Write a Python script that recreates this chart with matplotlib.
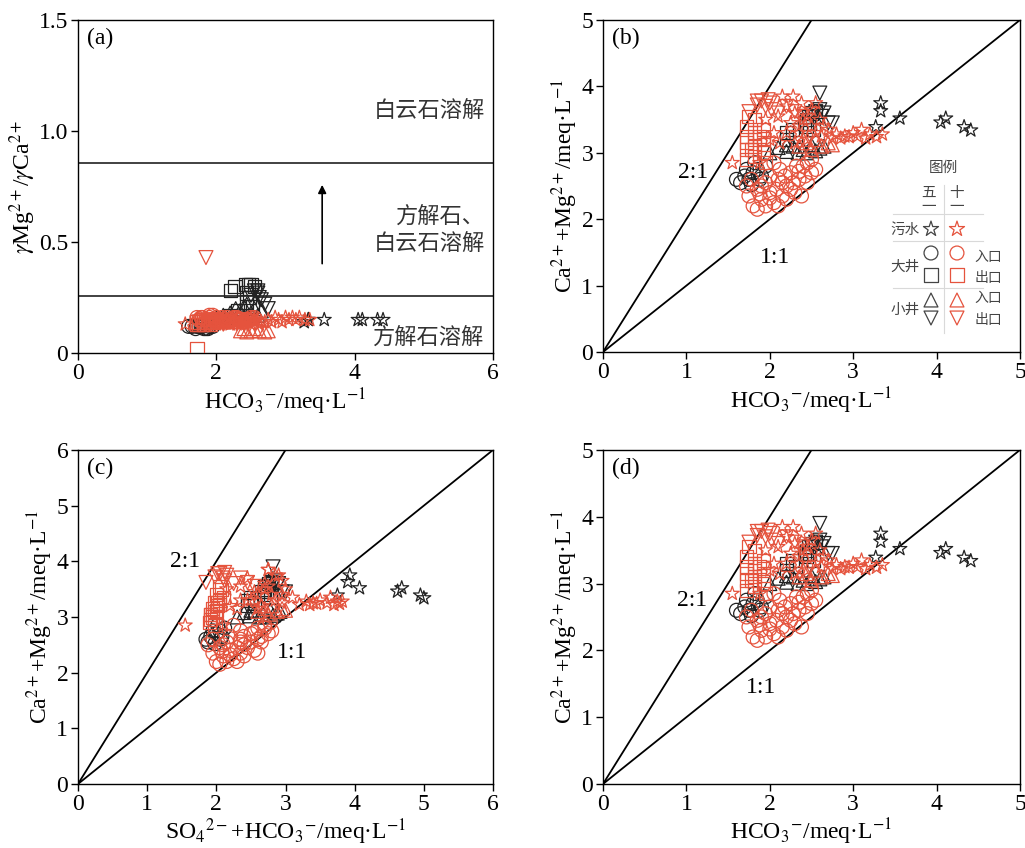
import matplotlib
matplotlib.use("Agg")
import matplotlib.pyplot as plt
import numpy as np

plt.rcParams["font.family"] = ["Liberation Serif", "Noto Sans CJK SC"]
plt.rcParams["mathtext.fontset"] = "stix"
plt.rcParams["axes.linewidth"] = 1.0

RED = "#e5533d"
BLK = "#222222"

# ---- 五一 (black) ----
# 污水
may_sew_hco3 = [3.27, 3.33, 3.33, 3.56, 4.05, 4.11, 4.33, 4.41]
may_sew_camg = [3.39, 3.63, 3.75, 3.52, 3.46, 3.52, 3.39, 3.34]
may_sew_ratio = [0.14, 0.15, 0.15, 0.15, 0.15, 0.15, 0.15, 0.15]
may_sew_sumx = [3.75, 3.90, 3.93, 4.07, 4.62, 4.68, 4.95, 5.00]
# 大井入口
may_bin_hco3 = [1.60, 1.65, 1.70, 1.75, 1.80, 1.85, 1.90, 1.95, 1.82, 1.72, 1.88, 1.78]
may_bin_camg = [2.60, 2.55, 2.65, 2.60, 2.70, 2.75, 2.65, 2.80, 2.85, 2.75, 2.60, 2.52]
may_bin_ratio = [0.12, 0.12, 0.11, 0.12, 0.12, 0.11, 0.12, 0.12, 0.11, 0.12, 0.11, 0.12]
may_bin_sumx = [1.85, 1.88, 1.92, 1.95, 2.00, 2.05, 2.08, 2.12, 2.02, 1.95, 2.06, 1.98]
# 大井出口
may_bout_hco3 = [2.20, 2.27, 2.42, 2.46, 2.50, 2.55, 2.44, 2.44, 2.31, 2.20, 2.48, 2.52]
may_bout_camg = [3.30, 3.35, 3.45, 3.55, 3.60, 3.62, 3.50, 3.40, 3.25, 3.20, 3.45, 3.35]
may_bout_ratio = [0.28, 0.30, 0.31, 0.31, 0.31, 0.30, 0.27, 0.23, 0.19, 0.17, 0.25, 0.21]
may_bout_sumx = [2.45, 2.50, 2.65, 2.70, 2.75, 2.80, 2.70, 2.68, 2.55, 2.45, 2.72, 2.78]
# 小井入口
may_sin_hco3 = [2.00, 2.10, 2.20, 2.28, 2.34, 2.40, 2.44, 2.50, 2.55, 2.60, 2.65, 2.20]
may_sin_camg = [3.00, 3.08, 3.02, 3.10, 3.00, 3.05, 3.00, 3.12, 3.03, 3.07, 3.10, 3.12]
may_sin_ratio = [0.16, 0.17, 0.18, 0.20, 0.19, 0.21, 0.22, 0.18, 0.20, 0.17, 0.19, 0.16]
may_sin_sumx = [2.30, 2.40, 2.48, 2.55, 2.62, 2.68, 2.72, 2.78, 2.82, 2.88, 2.92, 2.50]
# 小井出口
may_sout_hco3 = [2.60, 2.55, 2.60, 2.65, 2.70, 2.75, 2.50, 2.62]
may_sout_camg = [3.90, 3.62, 3.65, 3.60, 3.45, 3.45, 3.55, 3.55]
may_sout_ratio = [0.28, 0.28, 0.27, 0.24, 0.22, 0.20, 0.26, 0.25]
may_sout_sumx = [2.82, 2.80, 2.85, 2.90, 3.00, 2.95, 2.75, 2.88]

# ---- 十一 (red) ----
oct_sew_hco3 = [1.55, 1.88, 1.95, 2.05, 2.10, 2.15, 2.20, 2.25, 2.30, 2.35, 2.38, 2.40, 2.45, 2.50,
                2.50, 2.55, 2.60, 2.62, 2.70, 2.75, 2.80, 2.85, 2.90, 2.95, 3.00, 3.05, 3.10, 3.15,
                3.20, 3.28, 3.35, 2.20, 2.30, 2.45, 2.65, 2.35, 2.12, 2.55, 2.00, 2.28]
oct_sew_camg = [2.85, 2.85, 3.50, 3.30, 3.55, 3.85, 3.70, 3.45, 3.60, 3.30, 3.75, 3.50, 3.20, 3.40,
                3.65, 3.30, 3.50, 3.25, 3.35, 3.22, 3.28, 3.22, 3.25, 3.24, 3.30, 3.25, 3.35, 3.22,
                3.28, 3.24, 3.28, 3.30, 3.15, 3.55, 3.40, 3.40, 3.15, 3.75, 3.20, 3.85]
oct_sew_ratio = [0.13, 0.14, 0.15, 0.13, 0.14, 0.15, 0.13, 0.14, 0.15, 0.13, 0.14, 0.15, 0.14, 0.13,
                 0.15, 0.14, 0.15, 0.13, 0.14, 0.15, 0.14, 0.16, 0.15, 0.14, 0.16, 0.15, 0.16, 0.15,
                 0.16, 0.15, 0.15, 0.14, 0.13, 0.15, 0.14, 0.13, 0.14, 0.15, 0.13, 0.14]
oct_sew_sumx = [1.55, 2.10, 2.15, 2.35, 2.35, 2.75, 2.45, 2.55, 2.70, 2.50, 2.85, 2.70, 2.65, 2.80,
                2.95, 2.85, 3.00, 2.95, 3.10, 3.20, 3.30, 3.35, 3.40, 3.45, 3.50, 3.60, 3.65, 3.70,
                3.75, 3.78, 3.82, 2.45, 2.60, 2.75, 2.95, 2.60, 2.30, 2.90, 2.20, 2.75]
oct_bin_hco3 = [1.75, 1.80, 1.85, 1.90, 1.95, 2.00, 2.05, 2.10, 2.15, 2.20, 2.25, 2.30, 2.35, 2.40,
                2.45, 2.50, 2.50, 1.78, 1.85, 1.95, 2.00, 2.08, 2.12, 2.20, 2.28, 2.32, 2.38, 2.42,
                1.90, 2.05, 2.15, 2.25, 2.45, 1.72, 2.00, 2.18, 2.35, 2.55, 1.88, 2.10]
oct_bin_camg = [2.35, 2.20, 2.45, 2.30, 2.55, 2.40, 2.25, 2.60, 2.35, 2.50, 2.70, 2.40, 2.60, 2.80,
                2.55, 2.70, 2.90, 2.60, 2.15, 2.20, 2.65, 2.45, 2.75, 2.30, 2.55, 2.80, 2.35, 2.65,
                2.50, 2.85, 2.55, 2.45, 2.85, 2.50, 2.32, 2.65, 2.72, 2.75, 2.38, 2.20]
oct_bin_ratio = [0.15, 0.16, 0.14, 0.17, 0.15, 0.16, 0.14, 0.15, 0.16, 0.15, 0.14, 0.16, 0.15, 0.14,
                 0.15, 0.16, 0.15, 0.16, 0.15, 0.17, 0.14, 0.16, 0.15, 0.14, 0.16, 0.15, 0.14, 0.15,
                 0.16, 0.15, 0.14, 0.16, 0.15, 0.16, 0.15, 0.14, 0.15, 0.16, 0.15, 0.14]
oct_bin_sumx = [1.95, 2.00, 2.05, 2.10, 2.15, 2.20, 2.25, 2.35, 2.35, 2.40, 2.50, 2.55, 2.60, 2.70,
                2.65, 2.75, 2.78, 1.95, 2.05, 2.15, 2.20, 2.30, 2.35, 2.40, 2.50, 2.60, 2.60, 2.65,
                2.10, 2.25, 2.35, 2.45, 2.70, 1.88, 2.20, 2.40, 2.55, 2.80, 2.08, 2.30]
oct_bout_hco3 = [1.72, 1.72, 1.72, 1.72, 1.72, 1.82, 1.82, 1.82, 1.82, 1.82, 1.92, 1.92, 1.92, 1.92,
                 1.95, 1.78, 1.88, 1.75]
oct_bout_camg = [2.90, 3.05, 3.15, 3.25, 3.40, 2.95, 3.10, 3.20, 3.30, 3.50, 3.00, 3.12, 3.22, 3.35,
                 2.85, 3.05, 3.25, 3.55]
oct_bout_ratio = [0.02, 0.13, 0.14, 0.13, 0.14, 0.13, 0.14, 0.15, 0.14, 0.13, 0.14, 0.15, 0.14, 0.13,
                  0.14, 0.15, 0.14, 0.13]
oct_bout_sumx = [1.90, 1.92, 1.95, 1.98, 2.00, 1.92, 1.98, 2.02, 2.05, 2.08, 1.95, 2.00, 2.05, 2.10,
                 1.98, 1.92, 2.02, 2.05]
oct_sin_hco3 = [2.35, 2.44, 2.50, 2.55, 2.62, 2.70, 2.75, 2.40]
oct_sin_camg = [3.10, 3.15, 3.05, 3.20, 3.10, 3.15, 3.12, 3.20]
oct_sin_ratio = [0.10, 0.095, 0.10, 0.11, 0.10, 0.095, 0.10, 0.11]
oct_sin_sumx = [2.60, 2.70, 2.75, 2.80, 2.88, 2.95, 3.00, 2.65]
oct_sout_hco3 = [1.75, 1.85, 1.90, 1.95, 2.00, 2.02, 2.10, 2.20, 2.30, 1.98, 2.40, 1.85]
oct_sout_camg = [3.62, 3.72, 3.78, 3.70, 3.75, 3.65, 3.60, 3.70, 3.62, 3.80, 3.55, 3.78]
oct_sout_ratio = [0.14, 0.43, 0.13, 0.14, 0.15, 0.14, 0.13, 0.14, 0.15, 0.14, 0.13, 0.14]
oct_sout_sumx = [1.85, 1.98, 2.05, 2.10, 2.15, 2.12, 2.25, 2.35, 2.45, 2.12, 2.55, 2.02]

# (hco3, camg, ratio, sumx, marker, colour, size) -- black first, red on top
series = [
    (may_sew_hco3, may_sew_camg, may_sew_ratio, may_sew_sumx, "*", BLK, 110),
    (may_bin_hco3, may_bin_camg, may_bin_ratio, may_bin_sumx, "o", BLK, 100),
    (may_bout_hco3, may_bout_camg, may_bout_ratio, may_bout_sumx, "s", BLK, 90),
    (may_sin_hco3, may_sin_camg, may_sin_ratio, may_sin_sumx, "^", BLK, 100),
    (may_sout_hco3, may_sout_camg, may_sout_ratio, may_sout_sumx, "v", BLK, 100),
    (oct_bin_hco3, oct_bin_camg, oct_bin_ratio, oct_bin_sumx, "o", RED, 100),
    (oct_sin_hco3, oct_sin_camg, oct_sin_ratio, oct_sin_sumx, "^", RED, 100),
    (oct_sout_hco3, oct_sout_camg, oct_sout_ratio, oct_sout_sumx, "v", RED, 100),
    (oct_bout_hco3, oct_bout_camg, oct_bout_ratio, oct_bout_sumx, "s", RED, 90),
    (oct_sew_hco3, oct_sew_camg, oct_sew_ratio, oct_sew_sumx, "*", RED, 110),
]

fig = plt.figure(figsize=(10.25, 8.48), dpi=100)
ax_a = fig.add_axes([0.0761, 0.5837, 0.4049, 0.3927])
ax_b = fig.add_axes([0.5883, 0.5849, 0.4068, 0.3915])
ax_c = fig.add_axes([0.0761, 0.0755, 0.4049, 0.3939])
ax_d = fig.add_axes([0.5883, 0.0755, 0.4068, 0.3939])

hco3_lab = r"HCO$_3$$^{-}$/meq·L$^{-1}$"
camg_lab = r"Ca$^{2+}$+Mg$^{2+}$/meq·L$^{-1}$"


def style(ax, xmax, ymax, xt, yt, ytl=None):
    ax.set_xlim(0, xmax)
    ax.set_ylim(0, ymax)
    ax.set_xticks(xt)
    ax.set_yticks(yt)
    if ytl is not None:
        ax.set_yticklabels(ytl)
    ax.tick_params(direction="out", length=5, width=1, labelsize=17, pad=2)


def scatter_all(ax, xi, yi):
    for s in series:
        ax.scatter(s[xi], s[yi], marker=s[4], s=s[6], facecolors="none",
                   edgecolors=s[5], linewidths=0.9, zorder=3)


# ---- (a) ----
scatter_all(ax_a, 0, 2)
ax_a.axhline(0.856, color="#333333", lw=1.3)
ax_a.axhline(0.257, color="#333333", lw=1.3)
ax_a.annotate("", xy=(3.53, 0.77), xytext=(3.53, 0.39),
              arrowprops=dict(arrowstyle="-|>", color="black", lw=1.2, mutation_scale=12))
ax_a.text(5.88, 1.09, "白云石溶解", ha="right", va="center", fontsize=16, color="#333333")
ax_a.text(5.88, 0.55, "方解石、\n白云石溶解", ha="right", va="center", fontsize=16,
          color="#333333", linespacing=1.35)
ax_a.text(5.88, 0.065, "方解石溶解", ha="right", va="center", fontsize=16, color="#333333")
style(ax_a, 6, 1.5, [0, 2, 4, 6], [0, 0.5, 1.0, 1.5], ["0", "0.5", "1.0", "1.5"])
ax_a.set_xlabel(hco3_lab, fontsize=17, labelpad=2)
ax_a.set_ylabel(r"$\gamma$Mg$^{2+}$/$\gamma$Ca$^{2+}$", fontsize=17, labelpad=1)


def ratio_lines(ax, xmax, lab21, lab11):
    xs = np.array([0, xmax])
    ax.plot(xs, xs, color="black", lw=1.3, zorder=2)
    ax.plot(xs, 2 * xs, color="black", lw=1.3, zorder=2)
    ax.text(lab21[0], lab21[1], "2:1", ha="center", va="center", fontsize=17)
    ax.text(lab11[0], lab11[1], "1:1", ha="center", va="center", fontsize=17)


# ---- (b) ----
scatter_all(ax_b, 0, 1)
ratio_lines(ax_b, 5, (1.08, 2.71), (2.06, 1.43))
style(ax_b, 5, 5, range(6), range(6))
ax_b.set_xlabel(hco3_lab, fontsize=17, labelpad=2)
ax_b.set_ylabel(camg_lab, fontsize=17, labelpad=1)

# legend table in (b)
tr = ax_b.transAxes


def fx(px):
    return (px - 603) / 417


def fy(py):
    return (352 - py) / 332


gray = "#d9d9d9"
for yy in [214, 241, 288]:
    ax_b.plot([fx(893), fx(983)], [fy(yy), fy(yy)], color=gray, lw=0.8, transform=tr, clip_on=False)
ax_b.plot([fx(944), fx(944)], [fy(185), fy(333)], color=gray, lw=0.8, transform=tr, clip_on=False)
ax_b.text(fx(943), fy(168), "图例", ha="center", va="center", fontsize=10.5, color="#444444", transform=tr)
ax_b.text(fx(929), fy(200), "五\n一", ha="center", va="center", fontsize=10.5, color="#444444",
          transform=tr, linespacing=1.1)
ax_b.text(fx(957), fy(200), "十\n一", ha="center", va="center", fontsize=10.5, color="#444444",
          transform=tr, linespacing=1.1)
ax_b.text(fx(905), fy(230), "污水", ha="center", va="center", fontsize=10.5, color="#444444", transform=tr)
ax_b.text(fx(905), fy(267), "大井", ha="center", va="center", fontsize=10.5, color="#444444", transform=tr)
ax_b.text(fx(905), fy(310), "小井", ha="center", va="center", fontsize=10.5, color="#444444", transform=tr)
for py, lab in [(257, "入口"), (278, "出口"), (298, "入口"), (320, "出口")]:
    ax_b.text(fx(988), fy(py), lab, ha="center", va="center", fontsize=10, color="#444444", transform=tr)
for mk, py, sz in [("*", 229, 130), ("o", 253, 100), ("s", 275, 90), ("^", 300, 100), ("v", 318, 100)]:
    ax_b.scatter([fx(931)], [fy(py)], marker=mk, s=sz, facecolors="none", edgecolors="#444444",
                 linewidths=0.9, transform=tr, clip_on=False)
    ax_b.scatter([fx(957)], [fy(py)], marker=mk, s=sz, facecolors="none", edgecolors=RED,
                 linewidths=0.9, transform=tr, clip_on=False)

# ---- (c) ----
scatter_all(ax_c, 3, 1)
ratio_lines(ax_c, 6, (1.55, 4.0), (3.1, 2.37))
style(ax_c, 6, 6, range(7), range(7))
ax_c.set_xlabel(r"SO$_4$$^{2-}$+HCO$_3$$^{-}$/meq·L$^{-1}$", fontsize=17, labelpad=1)
ax_c.set_ylabel(camg_lab, fontsize=17, labelpad=1)

# ---- (d) ----
scatter_all(ax_d, 0, 1)
ratio_lines(ax_d, 5, (1.07, 2.74), (1.9, 1.45))
style(ax_d, 5, 5, range(6), range(6))
ax_d.set_xlabel(hco3_lab, fontsize=17, labelpad=1)
ax_d.set_ylabel(camg_lab, fontsize=17, labelpad=1)

for ax, lab in [(ax_a, "(a)"), (ax_b, "(b)"), (ax_c, "(c)"), (ax_d, "(d)")]:
    ax.text(0.022, 0.975, lab, transform=ax.transAxes, ha="left", va="top", fontsize=17)

fig.savefig("out.png", dpi=100)
